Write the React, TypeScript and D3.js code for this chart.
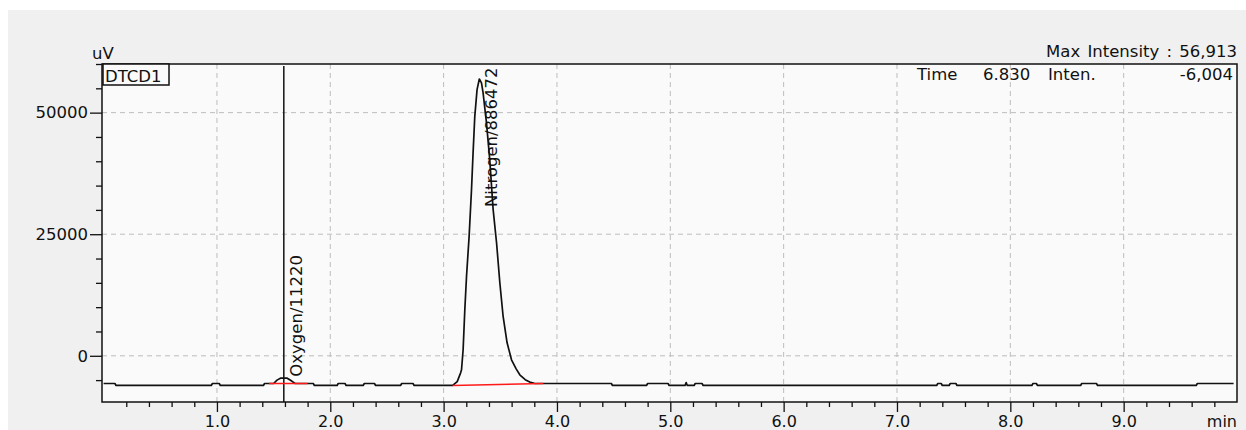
import React, { useEffect, useRef } from 'react';
import * as d3 from 'd3';

// baseline levels of the detector trace (uV)
const LO = -6100;
const HI = -5700;

const traceTime = [
  0.0, 0.1, 0.11, 0.95, 0.96, 1.02, 1.03, 1.41, 1.42, 1.5, 1.53, 1.56, 1.62, 1.66, 1.69,
  1.85, 1.86, 2.06, 2.07, 2.13, 2.14, 2.29, 2.3, 2.39, 2.4, 2.62, 2.63, 2.73, 2.74, 3.08,
  3.12, 3.15, 3.158, 3.172, 3.187, 3.202, 3.225, 3.246, 3.26, 3.275, 3.295, 3.315, 3.334,
  3.348, 3.378, 3.407, 3.437, 3.467, 3.496, 3.525, 3.56, 3.599, 3.64, 3.672, 3.72, 3.76,
  3.8, 3.88, 4.48, 4.49, 4.79, 4.8, 4.98, 4.99, 5.13, 5.14, 5.15, 5.21, 5.22, 5.28, 5.29,
  7.35, 7.36, 7.39, 7.4, 7.46, 7.47, 7.52, 7.53, 8.19, 8.2, 8.23, 8.24, 8.62, 8.63, 8.76,
  8.77, 9.64, 9.65, 9.97,
];
const traceValue = [
  HI, HI, LO, LO, HI, HI, LO, LO, HI, HI, -5000, -4600, -4600, -5200, HI,
  HI, LO, LO, HI, HI, LO, LO, HI, HI, LO, LO, HI, HI, LO, LO,
  -5300, -3500, -2880, 1235, 9465, 16317, 24547, 34156, 41770, 49240, 54730, 56913, 56110,
  54115, 47940, 40330, 30040, 23250, 15020, 8086, 2675, -823, -2700, -3910, -4900, -5400,
  -5650, HI, HI, LO, LO, HI, HI, LO, LO, -5500, LO, LO, HI, HI, LO,
  LO, HI, HI, LO, LO, HI, HI, LO, LO, HI, HI, LO, LO, HI, HI,
  LO, LO, HI, HI,
];

const peakName = ['Oxygen', 'Nitrogen'];
const peakArea = [11220, 886472];
const peakTime = [1.59, 3.315];
const peakLabelAt = [-4300, 30600];
const baseStartTime = [1.46, 3.08];
const baseEndTime = [1.8, 3.88];
const baseStartValue = [HI, LO];
const baseEndValue = [HI, HI];

const xMajor = [1, 2, 3, 4, 5, 6, 7, 8, 9];
const xMinor = d3.range(1, 50).map(i => i * 0.2).filter(v => Math.abs(v - Math.round(v)) > 0.01);
const yMajor = [0, 25000, 50000];
const yMinor = d3.range(-1, 13).map(i => i * 5000).filter(v => v % 25000 !== 0);

const cursorTime = 1.59;
const cursorInten = '-6,004';
const cursorLabel = '6.830';

const W = 1246;
const H = 430;
const FONT = '"DejaVu Sans", Verdana, sans-serif';

export default function App() {
  const gx = useRef<SVGGElement>(null);
  const gxm = useRef<SVGGElement>(null);
  const gy = useRef<SVGGElement>(null);
  const gym = useRef<SVGGElement>(null);

  const left = 102, right = 1237, top = 64, bottom = 402;
  const x = d3.scaleLinear([0, 10], [103.6, 1237]);
  const y = d3.scaleLinear([-9500, 60000], [bottom, top]);

  const pts = traceTime.map((t, i) => [t, traceValue[i]] as [number, number]);
  const line = d3.line<[number, number]>().x(d => x(d[0])).y(d => y(d[1]));
  const maxInten = d3.format(',')(d3.max(traceValue) as number);

  useEffect(() => {
    const style = (g: d3.Selection<SVGGElement, unknown, null, undefined>, size: string) => {
      g.select('.domain').remove();
      g.selectAll('line').attr('stroke', '#111').attr('stroke-width', 1.3);
      g.selectAll('text').attr('fill', '#111').style('font-family', FONT).style('font-size', size);
    };
    d3.select(gx.current!)
      .call(d3.axisBottom(x).tickValues(xMajor).tickSize(10).tickPadding(4).tickFormat(d3.format('.1f')))
      .call(style, '16px');
    d3.select(gxm.current!)
      .call(d3.axisBottom(x).tickValues(xMinor).tickSize(5).tickFormat(() => ''))
      .call(style, '16px');
    d3.select(gy.current!)
      .call(d3.axisLeft(y).tickValues(yMajor).tickSize(12).tickPadding(2).tickFormat(d3.format('d')))
      .call(style, '16.5px');
    d3.select(gym.current!)
      .call(d3.axisLeft(y).tickValues(yMinor).tickSize(6).tickFormat(() => ''))
      .call(style, '16.5px');
  }, []);

  return (
    <svg width={W} height={H} style={{ position: 'absolute', left: 0, top: 0 }} fontFamily={FONT}>
      <rect x={0} y={0} width={W} height={H} fill="#fff" />
      <rect x={8} y={10} width={W - 8} height={H - 10} fill="#f0f0f0" />
      <rect x={left} y={top} width={right - left} height={bottom - top} fill="#fafafa" />

      {/* grid */}
      <g stroke="#bdbdbd" strokeWidth={1} strokeDasharray="5,4">
        {xMajor.map(v => (
          <line key={'gx' + v} x1={x(v)} x2={x(v)} y1={top} y2={bottom} />
        ))}
        {yMajor.map(v => (
          <line key={'gy' + v} x1={left} x2={right} y1={y(v)} y2={y(v)} />
        ))}
      </g>

      {/* cursor */}
      <line x1={x(cursorTime)} x2={x(cursorTime)} y1={66} y2={bottom} stroke="#111" strokeWidth={1.5} />

      {/* trace */}
      <path d={line(pts) ?? ''} fill="none" stroke="#111" strokeWidth={1.7} strokeLinejoin="round" />

      {/* integration baselines */}
      <g stroke="#ff1a1a" strokeWidth={1.6}>
        {baseStartTime.map((t, i) => (
          <line key={i} x1={x(t)} x2={x(baseEndTime[i])} y1={y(baseStartValue[i])} y2={y(baseEndValue[i])} />
        ))}
      </g>

      {/* peak labels */}
      {peakName.map((n, i) => (
        <text
          key={n}
          transform={`translate(${x(peakTime[i] + 0.16)},${y(peakLabelAt[i])}) rotate(-90)`}
          fontSize={16.5}
          fill="#111"
        >
          {`${n}/${peakArea[i]}`}
        </text>
      ))}

      {/* frame */}
      <rect x={left} y={top} width={right - left} height={bottom - top} fill="none" stroke="#111" strokeWidth={1.5} />

      {/* channel box */}
      <rect x={103} y={64} width={66} height={21} fill="#fafafa" stroke="#111" strokeWidth={1.5} />
      <text x={105} y={82} fontSize={16.5} fill="#111">DTCD1</text>

      <g ref={gx} transform={`translate(0,${bottom})`} />
      <g ref={gxm} transform={`translate(0,${bottom})`} />
      <g ref={gy} transform={`translate(${left},0)`} />
      <g ref={gym} transform={`translate(${left},0)`} />

      <text x={92} y={59} fontSize={16.5} fill="#111">uV</text>
      <text x={right} y={427} fontSize={16} fill="#111" textAnchor="end">min</text>

      {/* header */}
      <text x={right} y={57} fontSize={16.5} fill="#111" textAnchor="end" wordSpacing={2}>{`Max Intensity :  ${maxInten}`}</text>
      <text x={917} y={80} fontSize={16.5} fill="#111">Time</text>
      <text x={983} y={80} fontSize={16.5} fill="#111">{cursorLabel}</text>
      <text x={1048} y={80} fontSize={16.5} fill="#111">Inten.</text>
      <text x={1233} y={80} fontSize={16.5} fill="#111" textAnchor="end">{cursorInten}</text>
    </svg>
  );
}
